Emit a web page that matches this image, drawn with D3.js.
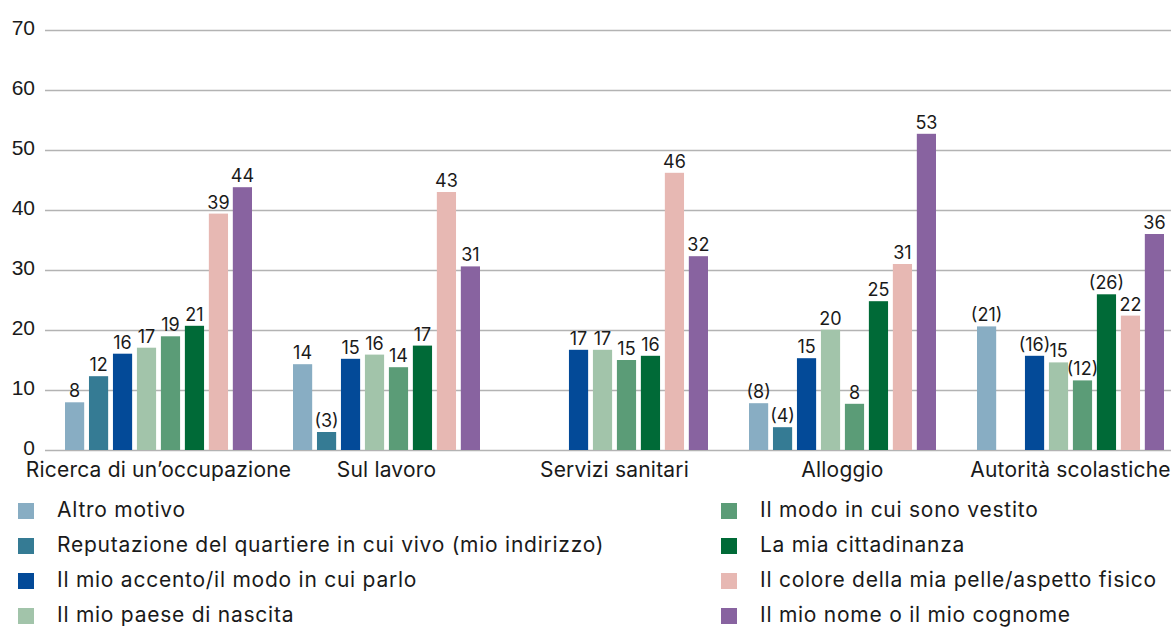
<!DOCTYPE html>
<html>
<head>
<meta charset="utf-8">
<script src="https://cdn.jsdelivr.net/npm/d3@7"></script>
<style>
  body { margin: 0; background: #fff; }
  svg { display: block; font-family: Inter, "Noto Sans", sans-serif; }
  .grid line { stroke: #b3b3b3; stroke-width: 1.5; }
  .grid text { fill: #1a1a1a; font-size: 21px; }
</style>
</head>
<body>
<svg id="chart"></svg>
<script>
// categories (x groups)
const categories = ["Ricerca di un\u2019occupazione", "Sul lavoro", "Servizi sanitari", "Alloggio", "Autorit\u00e0 scolastiche"];

// series, in bar order
const seriesNames = [
  "Altro motivo",
  "Reputazione del quartiere in cui vivo (mio indirizzo)",
  "Il mio accento/il modo in cui parlo",
  "Il mio paese di nascita",
  "Il modo in cui sono vestito",
  "La mia cittadinanza",
  "Il colore della mia pelle/aspetto fisico",
  "Il mio nome o il mio cognome"
];
const seriesColors = ["#88adc3", "#357b94", "#034a98", "#a2c4aa", "#5b9c77", "#006a37", "#e7b8b3", "#8863a0"];

// values per series, one per category (null = no bar)
const altroMotivo    = [7.95, 14.3, null, 7.8, 20.6];
const reputazione    = [12.3, 3.0, null, 3.8, null];
const accento        = [16.05, 15.2, 16.7, 15.3, 15.7];
const paeseNascita   = [17.05, 15.9, 16.7, 20.05, 14.6];
const modoVestito    = [18.95, 13.8, 15.0, 7.7, 11.6];
const cittadinanza   = [20.7, 17.4, 15.7, 24.8, 25.95];
const colorePelle    = [39.4, 43.0, 46.2, 31.0, 22.4];
const nomeCognome    = [43.8, 30.6, 32.3, 52.7, 36.0];
const seriesValues = [altroMotivo, reputazione, accento, paeseNascita, modoVestito, cittadinanza, colorePelle, nomeCognome];

// labels shown in brackets (category index -> series indexes)
const bracketed = { 1: [1], 3: [0, 1], 4: [0, 2, 4, 5] };

const yTicks = [0, 10, 20, 30, 40, 50, 60, 70];

const W = 1171, H = 628;
const svg = d3.select('#chart').attr('width', W).attr('height', H);

const y = d3.scaleLinear().domain([0, 70]).range([450, 30]);

const x0 = d3.scaleBand()
  .domain(categories.map((d, i) => i))
  .range([65, 1164])
  .paddingInner(41 / 228)
  .paddingOuter(0);

const x1 = d3.scaleBand()
  .domain(seriesNames.map((d, i) => i))
  .range([0, x0.bandwidth()])
  .paddingInner(0.2)
  .paddingOuter(0);

// gridlines + y labels
const gridLeft = 45;
svg.append('g')
  .attr('class', 'grid')
  .attr('transform', 'translate(' + gridLeft + ',0)')
  .call(d3.axisLeft(y).tickValues(yTicks).tickSize(-(W - gridLeft)).tickPadding(10))
  .call(g => g.select('.domain').remove())
  .call(g => g.selectAll('text').attr('dy', '0.22em'));

// bars
const cells = [];
categories.forEach((c, ci) => {
  seriesValues.forEach((vals, si) => {
    if (vals[ci] != null) cells.push({ ci, si, v: vals[ci] });
  });
});

const groups = svg.append('g');
groups.selectAll('rect')
  .data(cells)
  .enter().append('rect')
  .attr('x', d => x0(d.ci) + x1(d.si))
  .attr('y', d => y(d.v))
  .attr('width', x1.bandwidth())
  .attr('height', d => y(0) - y(d.v))
  .attr('fill', d => seriesColors[d.si]);

groups.selectAll('text.val')
  .data(cells)
  .enter().append('text')
  .attr('class', 'val')
  .attr('x', d => x0(d.ci) + x1(d.si) + x1.bandwidth() / 2)
  .attr('y', d => y(d.v) - 5)
  .attr('text-anchor', 'middle')
  .attr('font-size', 18)
  .attr('fill', '#1a1a1a')
  .text(d => {
    const r = Math.round(d.v);
    return (bracketed[d.ci] && bracketed[d.ci].includes(d.si)) ? '(' + r + ')' : r;
  });

// category labels (first one nudged so it keeps clear of the left edge)
svg.append('g').selectAll('text')
  .data(categories)
  .enter().append('text')
  .attr('x', (d, i) => x0(i) + x0.bandwidth() / 2)
  .attr('y', 477)
  .attr('text-anchor', 'middle')
  .attr('font-size', 21)
  .attr('letter-spacing', 0.2)
  .attr('fill', '#1a1a1a')
  .text(d => d)
  .each(function() {
    const bb = this.getBBox();
    if (bb.x < 23) d3.select(this).attr('x', +d3.select(this).attr('x') + (23 - bb.x));
  });

// legend
const legend = svg.append('g');
const legendItems = legend.selectAll('g')
  .data(seriesNames)
  .enter().append('g')
  .attr('transform', (d, i) => {
    const col = i < 4 ? 0 : 1;
    const row = i % 4;
    return 'translate(' + (col === 0 ? 18 : 721) + ',' + (503 + row * 35) + ')';
  });

legendItems.append('rect')
  .attr('width', 16)
  .attr('height', 16)
  .attr('fill', (d, i) => seriesColors[i]);

legendItems.append('text')
  .attr('x', 39)
  .attr('y', 14)
  .attr('font-size', 21)
  .attr('letter-spacing', 0.75)
  .attr('fill', '#1a1a1a')
  .text(d => d);
</script>
</body>
</html>
